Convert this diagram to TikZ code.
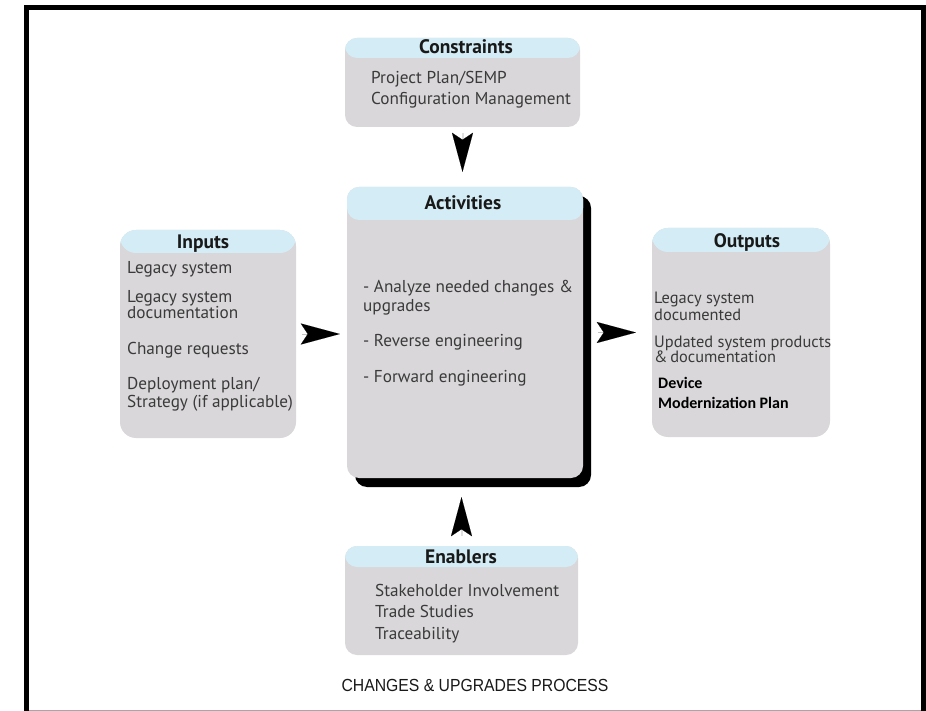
\documentclass[tikz,border=0pt]{standalone}
\usepackage{graphicx}
\usepackage{fontspec}
\setmainfont{PT Sans}
\newfontfamily\calibf{Carlito}
\newfontfamily\arialf{Liberation Sans}
\usetikzlibrary{arrows.meta}
\definecolor{hdrc}{HTML}{D3ECF5}
\definecolor{bodyc}{HTML}{D9D7D9}
\definecolor{txtc}{HTML}{3A3A3A}
\begin{document}
\begin{tikzpicture}[x=1pt,y=-1pt,
  box/.style={fill=bodyc, rounded corners=12pt, inner sep=0pt,
    path picture={\fill[hdrc] (path picture bounding box.north west) rectangle ([yshift=-#1]path picture bounding box.north east);}},
  ttl/.style={font=\fontsize{19.5}{22}\selectfont\bfseries, text=black!90, inner sep=0pt, anchor=base},
  ln/.style={font=\fontsize{17.2}{19}\selectfont, text=txtc, inner sep=0pt, anchor=base west},
  lno/.style={font=\fontsize{16.4}{18}\selectfont, text=txtc, inner sep=0pt, anchor=base west},
  lnd/.style={font=\calibf\fontsize{16}{18}\selectfont\bfseries, text=black, inner sep=0pt, anchor=base west},
  tip/.style={line width=0.01pt, draw=black, fill=black, -{Stealth[length=39pt, width=21pt, inset=7pt]}},
]
\useasboundingbox (0,0) rectangle (926,711);
% frame
\draw[line width=5pt] (26.5,712) -- (26.5,7.5) -- (923.5,7.5) -- (923.5,712);
\draw[gray!70, line width=1pt] (29,710.5) -- (921,710.5);

% boxes
\node[box=20pt, minimum width=235pt, minimum height=89pt] (cons) at (462.5,82.5) {};
\fill[black, rounded corners=12pt] (355,196) rectangle (591,487);
\node[box=33pt, minimum width=236pt, minimum height=291pt] (act) at (465,332.5) {};
\node[box=23pt, minimum width=176pt, minimum height=208pt, rounded corners=16pt] (inp) at (208,334) {};
\node[box=24pt, minimum width=178pt, minimum height=209pt, rounded corners=16pt] (out) at (741,332.5) {};
\node[box=21pt, minimum width=233pt, minimum height=109pt] (enab) at (461.5,600.5) {};

% arrows
\draw[tip, shorten <=6pt, shorten >=15pt] (cons.south) -- (cons.south |- act.north);
\draw[tip, shorten <=10pt, shorten >=19pt] (enab.north) -- (enab.north |- act.south);
\draw[tip, shorten <=6pt, shorten >=7pt] (inp.east) -- (inp.east -| act.west);
\draw[tip, shorten <=15pt, shorten >=16pt] (act.east) -- (act.east -| out.west);

% constraints
\node[ttl] (consT) at (466,54) {Constraints};
\node[ln] (cons1) at (371,84) {Project Plan/SEMP};
\node[ln] (cons2) at (371,105) {Configuration Management};

% activities
\node[ttl] (actT) at (463,210) {Activities};
\node[ln] (act1) at (363,293) {- Analyze needed changes \&};
\node[ln] (act2) at (363,311) {upgrades};
\node[ln] (act3) at (363,346) {- Reverse engineering};
\node[ln] (act4) at (363,382) {- Forward engineering};

% inputs
\node[ttl] (inpT) at (203,249) {Inputs};
\node[ln] (inp1) at (127,273) {Legacy system};
\node[ln] (inp2) at (127,302) {Legacy system};
\node[ln] (inp3) at (127,319) {documentation};
\node[ln] (inp4) at (127,354) {Change requests};
\node[ln] (inp5) at (127,389) {Deployment plan/};
\node[ln] (inp6) at (127,407) {Strategy (if applicable)};

% outputs
\node[ttl] (outT) at (747,248) {Outputs};
\node[lno] (out1) at (654,304) {Legacy system};
\node[lno] (out2) at (654,320) {documented};
\node[lno] (out3) at (654,347) {Updated system products};
\node[lno] (out4) at (654,362) {\&\,documentation};
\node[lnd] (out5) at (658,388) {Device};
\node[lnd] (out6) at (658,408) {Modernization Plan};

% enablers
\node[ttl] (enabT) at (461,563) {Enablers};
\node[ln] (enab1) at (375,596) {Stakeholder Involvement};
\node[ln] (enab2) at (375,617) {Trade Studies};
\node[ln] (enab3) at (375,639) {Traceability};

% caption
\node[font=\arialf\fontsize{17.5}{20}\selectfont, text=black!90, inner sep=0pt, anchor=base] (cap) at (475,691) {\scalebox{0.9}[1]{CHANGES \& UPGRADES PROCESS}};
\end{tikzpicture}
\end{document}
